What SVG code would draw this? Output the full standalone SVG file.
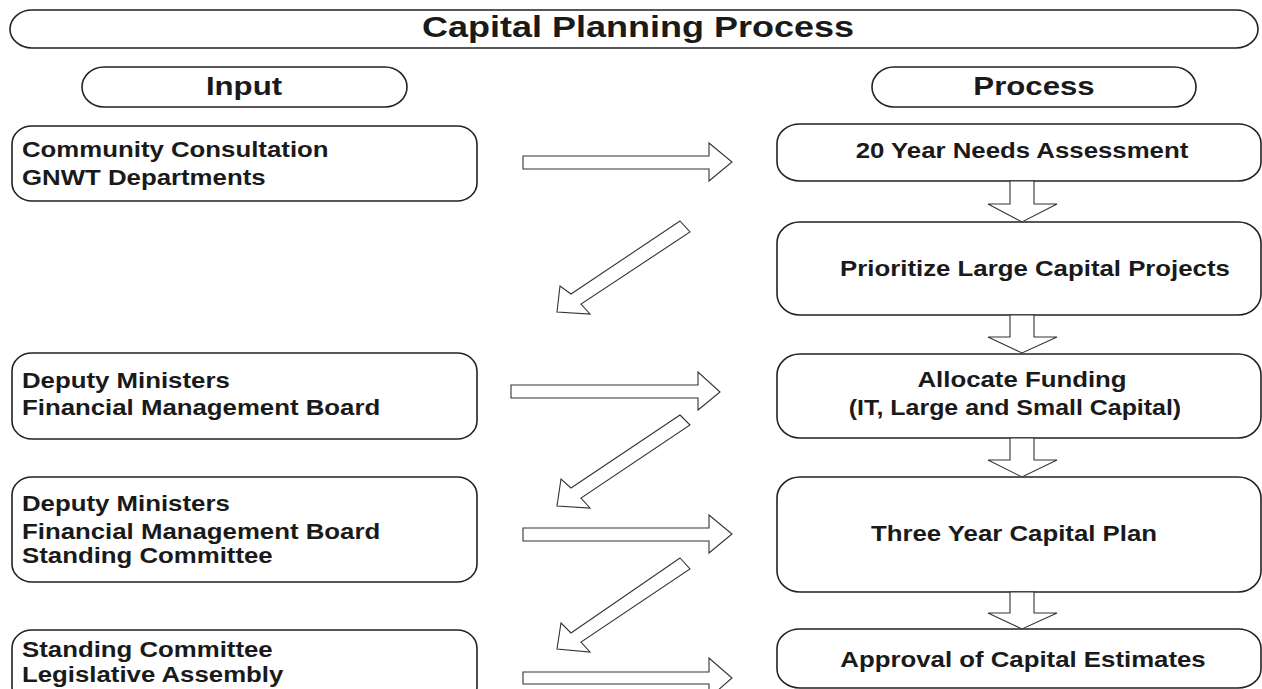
<svg xmlns="http://www.w3.org/2000/svg" width="1262" height="689" viewBox="0 0 1262 689">
<style>
.box{fill:#fff;stroke:#222;stroke-width:1.6}
.arr{fill:#fff;stroke:#333;stroke-width:1.1;stroke-linejoin:miter}
.t{font-family:"Liberation Sans",Arial,sans-serif;font-weight:bold;font-size:21.5px;fill:#1a1a1a}
.h{font-family:"Liberation Sans",Arial,sans-serif;font-weight:bold;font-size:26px;fill:#1a1a1a;text-anchor:middle}
.ti{font-family:"Liberation Sans",Arial,sans-serif;font-weight:bold;font-size:30px;fill:#1a1a1a;text-anchor:middle}
.c{text-anchor:middle}
</style>
<rect width="1262" height="689" fill="#fff"/>
<g id="title">
<rect class="box" x="10" y="10" width="1248" height="38" rx="22" ry="19"/>
<text class="ti" transform="translate(638,37) scale(1.2 1)">Capital Planning Process</text>
</g>
<g id="input-header">
<rect class="box" x="82" y="67" width="325" height="40" rx="22" ry="20"/>
<text class="h" transform="translate(244,95) scale(1.2 1)">Input</text>
</g>
<g id="process-header">
<rect class="box" x="872" y="67" width="324" height="40" rx="22" ry="20"/>
<text class="h" transform="translate(1034,95) scale(1.2 1)">Process</text>
</g>
<g id="in1">
<rect class="box" x="12" y="126" width="465" height="75" rx="20" ry="18"/>
<text class="t" transform="translate(22,157) scale(1.2 1)">Community Consultation</text>
<text class="t" transform="translate(22,185) scale(1.2 1)">GNWT Departments</text>
</g>
<g id="in2">
<rect class="box" x="12" y="353" width="465" height="86" rx="20" ry="18"/>
<text class="t" transform="translate(22,388) scale(1.2 1)">Deputy Ministers</text>
<text class="t" transform="translate(22,415) scale(1.2 1)">Financial Management Board</text>
</g>
<g id="in3">
<rect class="box" x="12" y="477" width="465" height="105" rx="20" ry="18"/>
<text class="t" transform="translate(22,511) scale(1.2 1)">Deputy Ministers</text>
<text class="t" transform="translate(22,539) scale(1.2 1)">Financial Management Board</text>
<text class="t" transform="translate(22,563) scale(1.2 1)">Standing Committee</text>
</g>
<g id="in4">
<rect class="box" x="12" y="630" width="465" height="75" rx="20" ry="18"/>
<text class="t" transform="translate(22,657) scale(1.2 1)">Standing Committee</text>
<text class="t" transform="translate(22,682) scale(1.2 1)">Legislative Assembly</text>
</g>
<g id="p1">
<rect class="box" x="777" y="124" width="484" height="57" rx="23" ry="19"/>
<text class="t c" transform="translate(1022,158) scale(1.2 1)">20 Year Needs Assessment</text>
</g>
<g id="p2">
<rect class="box" x="777" y="222" width="484" height="93" rx="23" ry="21"/>
<text class="t c" transform="translate(1035,276) scale(1.2 1)">Prioritize Large Capital Projects</text>
</g>
<g id="p3">
<rect class="box" x="777" y="354" width="484" height="84" rx="23" ry="21"/>
<text class="t c" transform="translate(1022,387) scale(1.2 1)">Allocate Funding</text>
<text class="t c" transform="translate(1015,415) scale(1.16 1)">(IT, Large and Small Capital)</text>
</g>
<g id="p4">
<rect class="box" x="777" y="477" width="484" height="115" rx="23" ry="21"/>
<text class="t c" transform="translate(1014,541) scale(1.2 1)">Three Year Capital Plan</text>
</g>
<g id="p5">
<rect class="box" x="777" y="629" width="484" height="59" rx="23" ry="19"/>
<text class="t c" transform="translate(1023,667) scale(1.2 1)">Approval of Capital Estimates</text>
</g>
<g id="connectors">
<polygon class="arr" points="523,156 709,156 709,143 732,162 709,181 709,169 523,169"/>
<polygon class="arr" points="511,385 698,385 698,372 720,392 698,410 698,398 511,398"/>
<polygon class="arr" points="523,528 709,528 709,515 732,534 709,553 709,541 523,541"/>
<polygon class="arr" points="523,672 709,672 709,658 732,678 709,698 709,684 523,684"/>
<polygon class="arr" points="680,221 690,232 581,304 590,314 557,312 560,286 571,294"/>
<polygon class="arr" points="680,415 690,425 581,498 590,508 557,506 561,479 571,488"/>
<polygon class="arr" points="680,558 690,569 581,642 590,652 557,649 561,623 571,633"/>
<polygon class="arr" points="1010,181 1034,181 1034,204 1057,204 1022,222 988,204 1010,204"/>
<polygon class="arr" points="1010,315 1034,315 1034,337 1057,337 1022,353 988,337 1010,337"/>
<polygon class="arr" points="1010,438 1034,438 1034,460 1057,460 1022,477 988,460 1010,460"/>
<polygon class="arr" points="1010,592 1034,592 1034,613 1057,613 1022,629 988,613 1010,613"/>
</g>
</svg>
